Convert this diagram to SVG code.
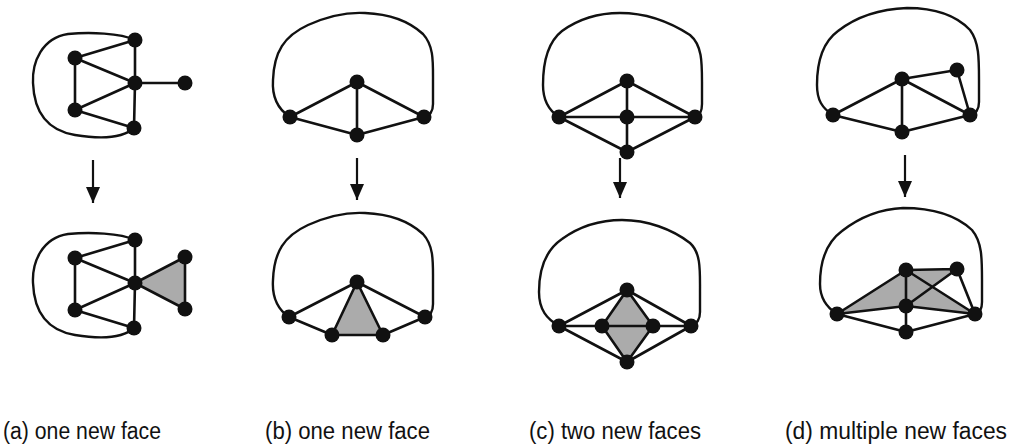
<svg xmlns="http://www.w3.org/2000/svg" width="1016" height="447" viewBox="0 0 1016 447">
<defs>
<marker id="ah" markerWidth="16" markerHeight="14" refX="16" refY="7" orient="auto" markerUnits="userSpaceOnUse" viewBox="0 0 16 14">
<path d="M0,0 L16,7 L0,14 Z" fill="#111"/>
</marker>
</defs>
<style>
.e{stroke:#111;stroke-width:2.6;fill:none;stroke-linecap:round;stroke-linejoin:round}
.c{stroke:#111;stroke-width:2.4;fill:none}
.f{fill:#ababab;stroke:none}
.n circle{fill:#111}
.ar{stroke:#111;stroke-width:2.2}
.lbl{font-family:"Liberation Sans",Arial,sans-serif;font-size:23px;fill:#111}
</style>
<rect width="1016" height="447" fill="#fff"/>
<g id="faces">
<polygon class="f" points="135,283 185,257 185,309"/>
<polygon class="f" points="357,282 332,335 383,335"/>
<polygon class="f" points="627,290 602,326 627,362 653,326"/>
<polygon class="f" points="837,314 906,270 957,269 932.4,286.8 975,314 906,306"/>
</g>
<g id="connectors">
<path class="c" d="M135,40 C120,33 90,32 68,34 C42,38 32,62 33,83 C34,110 45,130 75,135 C100,139 122,139 134,128"/>
<path class="e" d="M135,40 L75,58 M75,58 L135,83 M135,83 L75,110 M75,110 L134,128 M75,58 L75,110 M135,40 L135,83 M135,83 L134,128 M135,83 L185,83"/>
<path class="c" d="M135,240 C120,233 90,232 68,234 C42,238 32,262 33,283 C34,310 45,330 75,335 C100,339 122,339 134,328"/>
<path class="e" d="M135,240 L75,258 M75,258 L135,283 M135,283 L75,310 M75,310 L134,328 M75,258 L75,310 M135,240 L135,283 M135,283 L134,328 M135,283 L185,257 M135,283 L185,309 M185,257 L185,309"/>
<path class="c" d="M290,117 C276,108 272,95 273,80 C274,52 284,36 308,25 C328,16 348,12 365,13 C390,14 410,22 423,34 C434,46 433,62 433,82 L433,104 Q433,115 424,117"/>
<path class="e" d="M290,117 L357,82 M357,82 L424,117 M290,117 L357,135 M357,135 L424,117 M357,82 L357,135"/>
<path class="c" d="M289,317 C276,308 272,295 273,280 C274,252 284,236 308,225 C328,216 348,212 365,213 C390,214 410,222 423,234 C434,246 433,262 433,282 L433,304 Q433,315 425,317"/>
<path class="e" d="M289,317 L357,282 M357,282 L425,317 M289,317 L332,335 M332,335 L383,335 M383,335 L425,317 M357,282 L332,335 M357,282 L383,335"/>
<path class="c" d="M559,117 C548,110 543,100 543,85 C543,60 548,42 562,31 C580,18 600,13 620,13 C645,13 670,22 690,35 C702,45 702,62 702,82 L702,104 Q702,115 695,117"/>
<path class="e" d="M559,117 L627,81 M627,81 L695,117 M559,117 L695,117 M559,117 L627,152 M627,152 L695,117 M627,81 L627,152"/>
<path class="c" d="M559,326 C547,319 539,310 539,292 C539,268 546,250 562,239 C580,226 600,220 622,220 C647,220 672,229 690,243 C701,253 700,270 700,292 L700,312 Q700,323 691,326"/>
<path class="e" d="M559,326 L627,290 M627,290 L691,326 M559,326 L627,362 M627,362 L691,326 M559,326 L691,326 M627,290 L602,326 M627,290 L653,326 M627,362 L602,326 M627,362 L653,326"/>
<path class="c" d="M833,115 C822,108 817,100 817,85 C817,60 823,42 838,31 C856,17 880,9 907,8 C932,8 955,14 970,30 C979,42 979,58 979,80 L979,102 Q979,113 970,115"/>
<path class="e" d="M833,115 L902,79 M902,79 L957,70 M957,70 L970,115 M902,79 L970,115 M833,115 L902,132 M902,132 L970,115 M902,79 L902,132"/>
<path class="c" d="M837,314 C826,307 820,298 820,284 C820,260 827,242 842,231 C860,217 880,209 903,208 C930,208 955,214 972,230 C982,242 982,258 982,280 L982,302 Q982,313 975,314"/>
<path class="e" d="M837,314 L906,270 M906,270 L957,269 M957,269 L975,314 M906,270 L975,314 M906,306 L957,269 M906,270 L906,306 M837,314 L906,306 M906,306 L975,314 M837,314 L906,332 M906,332 L975,314 M906,306 L906,332"/>
<line class="ar" x1="93" y1="160" x2="93" y2="203" marker-end="url(#ah)"/>
<line class="ar" x1="357" y1="158" x2="357" y2="200" marker-end="url(#ah)"/>
<line class="ar" x1="620" y1="158" x2="620" y2="198" marker-end="url(#ah)"/>
<line class="ar" x1="905" y1="155" x2="905" y2="197" marker-end="url(#ah)"/>
</g>
<g id="a1" class="n"><circle cx="135" cy="40" r="7.5"/></g>
<g id="a2" class="n"><circle cx="75" cy="58" r="7.5"/></g>
<g id="a3" class="n"><circle cx="135" cy="83" r="7.5"/></g>
<g id="a4" class="n"><circle cx="185" cy="83" r="7.5"/></g>
<g id="a5" class="n"><circle cx="75" cy="110" r="7.5"/></g>
<g id="a6" class="n"><circle cx="134" cy="128" r="7.5"/></g>
<g id="a7" class="n"><circle cx="135" cy="240" r="7.5"/></g>
<g id="a8" class="n"><circle cx="75" cy="258" r="7.5"/></g>
<g id="a9" class="n"><circle cx="135" cy="283" r="7.5"/></g>
<g id="a10" class="n"><circle cx="75" cy="310" r="7.5"/></g>
<g id="a11" class="n"><circle cx="134" cy="328" r="7.5"/></g>
<g id="a12" class="n"><circle cx="185" cy="257" r="7.5"/></g>
<g id="a13" class="n"><circle cx="185" cy="309" r="7.5"/></g>
<g id="b1" class="n"><circle cx="357" cy="82" r="7.5"/></g>
<g id="b2" class="n"><circle cx="290" cy="117" r="7.5"/></g>
<g id="b3" class="n"><circle cx="357" cy="135" r="7.5"/></g>
<g id="b4" class="n"><circle cx="424" cy="117" r="7.5"/></g>
<g id="b5" class="n"><circle cx="357" cy="282" r="7.5"/></g>
<g id="b6" class="n"><circle cx="289" cy="317" r="7.5"/></g>
<g id="b7" class="n"><circle cx="332" cy="335" r="7.5"/></g>
<g id="b8" class="n"><circle cx="383" cy="335" r="7.5"/></g>
<g id="b9" class="n"><circle cx="425" cy="317" r="7.5"/></g>
<g id="c1" class="n"><circle cx="627" cy="81" r="7.5"/></g>
<g id="c2" class="n"><circle cx="559" cy="117" r="7.5"/></g>
<g id="c3" class="n"><circle cx="627" cy="117" r="7.5"/></g>
<g id="c4" class="n"><circle cx="695" cy="117" r="7.5"/></g>
<g id="c5" class="n"><circle cx="627" cy="152" r="7.5"/></g>
<g id="c6" class="n"><circle cx="627" cy="290" r="7.5"/></g>
<g id="c7" class="n"><circle cx="559" cy="326" r="7.5"/></g>
<g id="c8" class="n"><circle cx="602" cy="326" r="7.5"/></g>
<g id="c9" class="n"><circle cx="653" cy="326" r="7.5"/></g>
<g id="c10" class="n"><circle cx="691" cy="326" r="7.5"/></g>
<g id="c11" class="n"><circle cx="627" cy="362" r="7.5"/></g>
<g id="d1" class="n"><circle cx="902" cy="79" r="7.5"/></g>
<g id="d2" class="n"><circle cx="957" cy="70" r="7.5"/></g>
<g id="d3" class="n"><circle cx="833" cy="115" r="7.5"/></g>
<g id="d4" class="n"><circle cx="902" cy="132" r="7.5"/></g>
<g id="d5" class="n"><circle cx="970" cy="115" r="7.5"/></g>
<g id="d6" class="n"><circle cx="906" cy="270" r="7.5"/></g>
<g id="d7" class="n"><circle cx="957" cy="269" r="7.5"/></g>
<g id="d8" class="n"><circle cx="906" cy="306" r="7.5"/></g>
<g id="d9" class="n"><circle cx="837" cy="314" r="7.5"/></g>
<g id="d10" class="n"><circle cx="975" cy="314" r="7.5"/></g>
<g id="d11" class="n"><circle cx="906" cy="332" r="7.5"/></g>
<g id="labels">
<text class="lbl" x="3" y="439" textLength="158" lengthAdjust="spacingAndGlyphs">(a) one new face</text>
<text class="lbl" x="265" y="439" textLength="165" lengthAdjust="spacingAndGlyphs">(b) one new face</text>
<text class="lbl" x="529" y="439" textLength="172" lengthAdjust="spacingAndGlyphs">(c) two new faces</text>
<text class="lbl" x="785" y="439" textLength="222" lengthAdjust="spacingAndGlyphs">(d) multiple new faces</text>
</g>
</svg>
